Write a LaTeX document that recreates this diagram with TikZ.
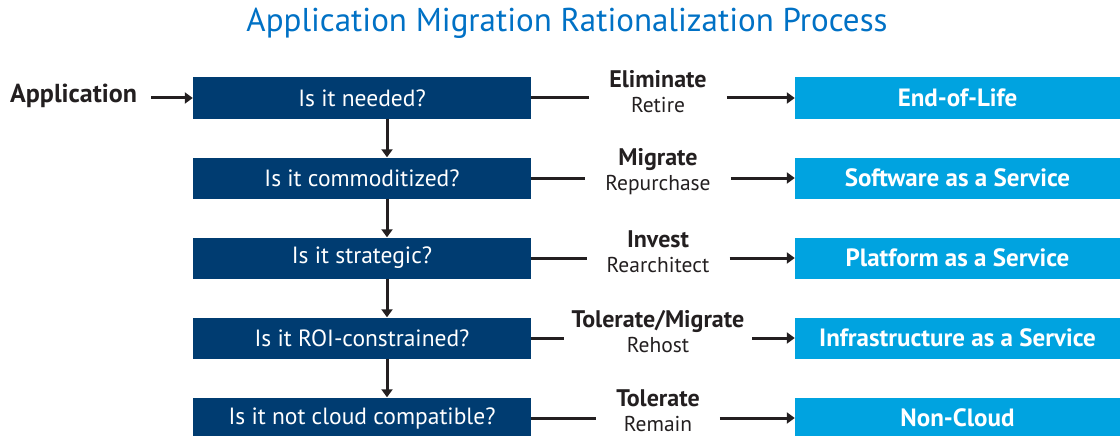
\documentclass[tikz,border=0pt]{standalone}
\usepackage{fontspec}
\setmainfont{PT Sans}
\usetikzlibrary{arrows.meta}
\definecolor{dark}{HTML}{003C71}
\definecolor{light}{HTML}{00A3E0}
\definecolor{titleblue}{HTML}{0071C5}
\definecolor{ink}{HTML}{231F20}
\newcommand\hdfont{\fontsize{24}{26}\selectfont\bfseries}
\begin{document}
\begin{tikzpicture}[x=1pt,y=-1pt,
 qbox/.style={fill=dark, text=white, minimum width=338pt, minimum height=41pt, inner sep=0pt, font=\fontsize{23.5}{26}\selectfont},
 rbox/.style={fill=light, text=white, minimum width=325pt, minimum height=41pt, inner sep=0pt, font=\fontsize{25}{28}\selectfont\bfseries},
 lbl/.style={align=center, text=ink, inner ysep=0pt, inner xsep=20pt, font=\fontsize{21.5}{25}\selectfont},
 conn/.style={draw=ink, line width=3pt},
 arr/.style={conn, -{Triangle[length=8pt,width=11pt]}}
]
\useasboundingbox (0,0) rectangle (1120,436);
\node[text=titleblue, font=\fontsize{33}{36}\selectfont] (title) at (567,23) {Application Migration Rationalization Process};

\node[qbox] (q1) at (362,98) {Is it needed?};
\node[qbox] (q2) at (362,178) {Is it commoditized?};
\node[qbox] (q3) at (362,258) {Is it strategic?};
\node[qbox] (q4) at (362,338) {Is it ROI-constrained?};
\node[qbox] (q5) at (362,418) {Is it not cloud compatible?};

\node[rbox] (r1) at (957.5,98) {End-of-Life};
\node[rbox] (r2) at (957.5,178) {Software as a Service};
\node[rbox] (r3) at (957.5,258) {Platform as a Service};
\node[rbox] (r4) at (957.5,338) {Infrastructure as a Service};
\node[rbox] (r5) at (957.5,418) {Non-Cloud};

\node[lbl] (l1) at (658,92) {{\hdfont Eliminate}\\Retire};
\node[lbl] (l2) at (658,172) {{\hdfont Migrate}\\Repurchase};
\node[lbl] (l3) at (658,252) {{\hdfont Invest}\\Rearchitect};
\node[lbl, inner xsep=8pt] (l4) at (658,332) {{\hdfont Tolerate/Migrate}\\Rehost};
\node[lbl] (l5) at (658,411) {{\hdfont Tolerate}\\Remain};

\node[font=\fontsize{26}{28}\selectfont\bfseries, text=ink, anchor=west, inner sep=0pt] (app) at (10,96) {Application};
\coordinate (as) at ([xshift=14pt]app.east);
\draw[arr] (as |- q1.west) -- (q1.west);

\coordinate (vx) at (387,0);
\draw[arr] (q1.south -| vx) -- (q2.north -| vx);
\draw[arr] (q2.south -| vx) -- (q3.north -| vx);
\draw[arr] (q3.south -| vx) -- (q4.north -| vx);
\draw[arr] (q4.south -| vx) -- (q5.north -| vx);

\foreach \i in {1,...,5}{
  \draw[conn] (q\i.east) -- (l\i.west |- q\i.east);
  \draw[arr] (l\i.east |- q\i.east) -- (r\i.west);
}
\end{tikzpicture}
\end{document}
